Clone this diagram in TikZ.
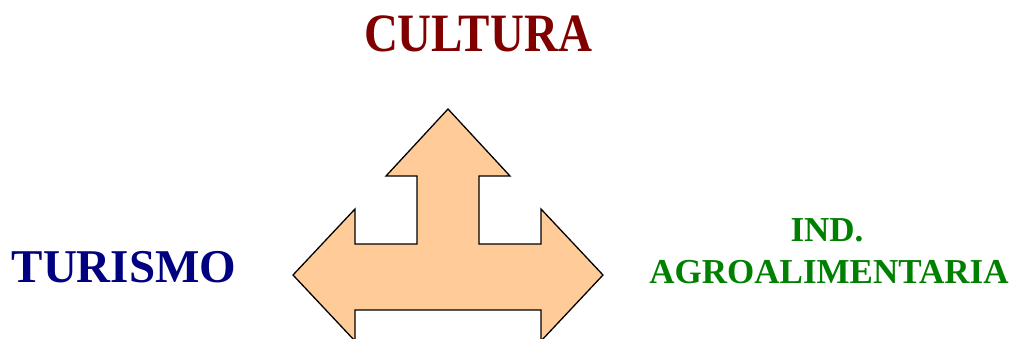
\documentclass[tikz,border=0pt]{standalone}
\usepackage{fontspec}
\setmainfont{Liberation Serif}
\definecolor{cultred}{HTML}{800000}
\definecolor{turblue}{HTML}{000080}
\definecolor{agrogreen}{HTML}{008000}
\definecolor{peach}{HTML}{FFCC99}
\tikzset{
  lbl/.style={inner sep=0pt, anchor=base, font=\bfseries},
  arrowshape/.style={fill=peach, draw=black, line width=1.3pt, line join=miter}
}
\begin{document}
\begin{tikzpicture}[x=1pt,y=-1pt]
\useasboundingbox (0,0) rectangle (1010,338);
\begin{scope}
\clip (0,0) rectangle (1010,338);
\draw[arrowshape] (448,109) -- (510,176) -- (479,176) -- (479,244) -- (541,244) -- (541,209)
  -- (603,275) -- (541,341) -- (541,310) -- (355,310) -- (355,341) -- (293,275)
  -- (355,209) -- (355,244) -- (417,244) -- (417,176) -- (386,176) -- cycle;
\end{scope}
\node[lbl, text=cultred, xscale=0.87] (cultura) at (478,51) {\fontsize{54}{60}\selectfont CULTURA};
\node[lbl, text=turblue] (turismo) at (124,282) {\fontsize{47}{52}\selectfont TURISMO};
\node[lbl, text=agrogreen] (ind) at (827,241) {\fontsize{35}{42}\selectfont IND.};
\node[lbl, text=agrogreen] (agro) at (829,283) {\fontsize{35}{42}\selectfont AGROALIMENTARIA};
\end{tikzpicture}
\end{document}
